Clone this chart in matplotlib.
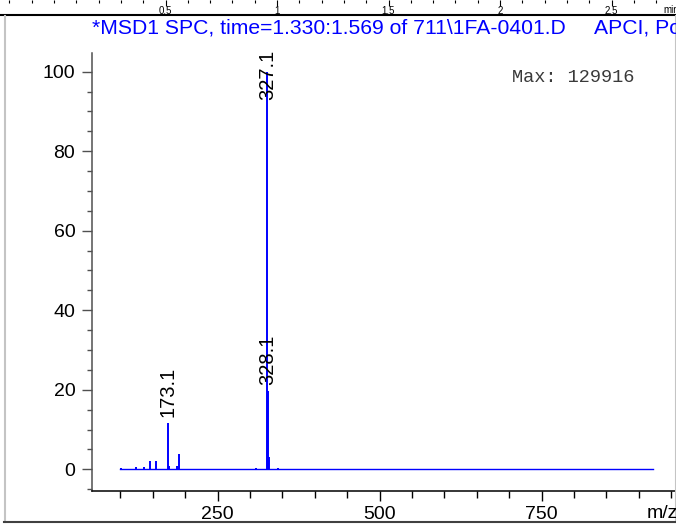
import matplotlib.pyplot as plt
from matplotlib.lines import Line2D
from matplotlib.ticker import MultipleLocator

plt.rcParams['font.family'] = ['Liberation Sans', 'DejaVu Sans']

# mass spectrum: m/z and relative abundance (%)
mz = [101.0, 124.0, 137.0, 146.0, 155.0, 173.1, 175.0, 188.0, 190.1,
      309.0, 327.1, 328.1, 329.1, 344.0]
abund = [0.3, 0.6, 0.6, 2.1, 2.1, 11.7, 0.8, 0.8, 3.8,
         0.3, 100.0, 19.7, 3.2, 0.4]
labelled = [173.1, 327.1, 328.1]
scan_range = [100, 922]
max_count = 129916

title = r"*MSD1 SPC, time=1.330:1.569 of 711\1FA-0401.D     APCI, Pos, Scan, Frag: 70"

# time axis of the chromatogram pane above (only its bottom edge shows)
time_labels = [0.5, 1.0, 1.5, 2.0, 2.5]

W, H = 676, 530
fig = plt.figure(figsize=(W / 100, H / 100), dpi=100)

# --- chromatogram strip at the very top
axt = fig.add_axes([0, 1.0, 1, 0.05])
axt.set_xlim(-54 / 223, (W - 54) / 223)
axt.set_ylim(0, 1)
for s in axt.spines.values():
    s.set_visible(False)
axt.set_yticks([])
axt.xaxis.set_major_locator(MultipleLocator(0.5))
axt.xaxis.set_minor_locator(MultipleLocator(0.1))
axt.set_xticks(time_labels)
axt.set_xticklabels(['%g' % t for t in time_labels])
axt.tick_params(axis='x', which='major', length=4, width=0.8, pad=0.5,
                labelsize=7, direction='out')
axt.tick_params(axis='x', which='minor', length=2.5, width=0.8)
fig.text(663 / W, 1 - 10 / H, 'min', fontsize=7, va='center', ha='left')

# frame lines around the spectrum pane
fig.add_artist(Line2D([0, 1], [1 - 14.5 / H] * 2, color='black', lw=1.5))
fig.add_artist(Line2D([4.5 / W] * 2, [1 - 15.5 / H, 1 - 521.5 / H],
                      color='#c4c4c4', lw=1.5))
fig.add_artist(Line2D([675.5 / W] * 2, [1 - 15.5 / H, 1 - 521.5 / H],
                      color='#c4c4c4', lw=1.5))
fig.add_artist(Line2D([4 / W, 1], [1 - 521.7 / H] * 2, color='#404040', lw=1.5))

# --- spectrum
ax = fig.add_axes([92 / W, (H - 490.7) / H, 611.5 / W, 437.7 / H])
ax.set_xlim(56.3, 1000)
ax.set_ylim(-5.38, 104.7)

ax.plot(scan_range, [0, 0], color='#0000ff', lw=1.0)
ax.vlines(mz, 0, abund, color='#0000ff', lw=1.4)

top = ax.get_ylim()[1]
for m, a in zip(mz, abund):
    if m not in labelled:
        continue
    if a + 1.5 + 12.8 > top:
        ax.text(m, top + 0.7, '%.1f' % m, rotation=90, ha='center', va='top',
                fontsize=14.5, clip_on=False)
    else:
        ax.text(m, a + 1.5, '%.1f' % m, rotation=90, ha='center', va='bottom',
                fontsize=14.5)

ax.spines['top'].set_visible(False)
ax.spines['right'].set_visible(False)
ax.spines['left'].set_color('#505050')
ax.spines['left'].set_linewidth(1.1)
ax.spines['bottom'].set_color('black')
ax.spines['bottom'].set_linewidth(1.1)

ax.xaxis.set_major_locator(MultipleLocator(250))
ax.xaxis.set_minor_locator(MultipleLocator(50))
ax.yaxis.set_major_locator(MultipleLocator(20))
ax.yaxis.set_minor_locator(MultipleLocator(5))
ax.set_yticks([0, 20, 40, 60, 80, 100])
ax.tick_params(axis='x', which='major', length=7, width=1.0, pad=4, labelsize=14)
ax.tick_params(axis='x', which='minor', length=5, width=1.0)
ax.tick_params(axis='y', which='major', length=7, width=1.0, pad=5, labelsize=14,
               color='#505050')
ax.tick_params(axis='y', which='minor', length=3.5, width=1.0, color='#505050')

fig.text(92 / W, 1 - 28 / H, title, color='#0000ff', fontsize=15.2,
         ha='left', va='center')
fig.text(511.7 / W, 1 - 77 / H, 'Max: %d' % max_count, family='Liberation Mono',
         fontsize=13.4, color='#3a3a3a', ha='left', va='center')
fig.text(646.7 / W, 1 - 513 / H, 'm/z', fontsize=14, ha='left', va='center')

fig.savefig('out.png', dpi=100)
